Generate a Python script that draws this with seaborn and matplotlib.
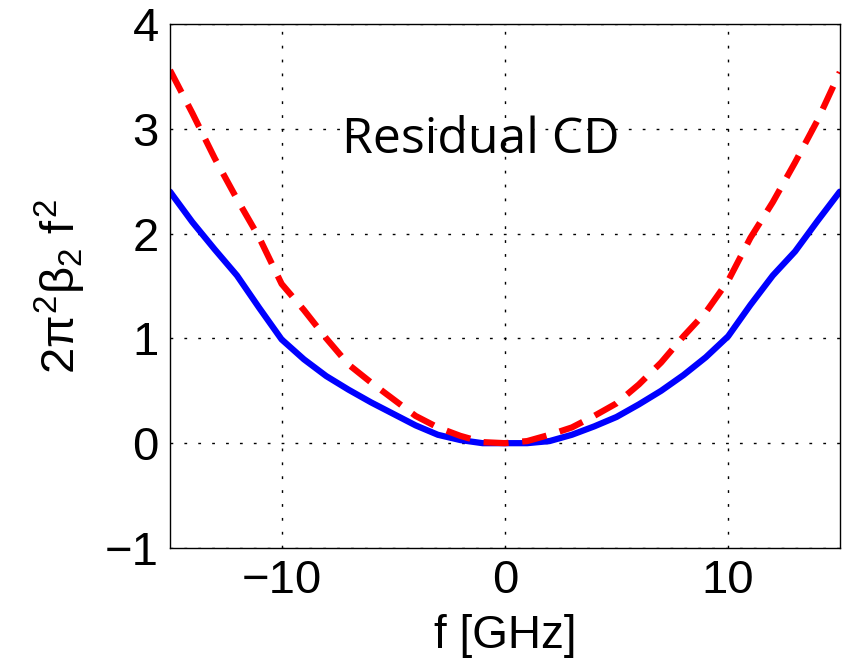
import numpy as np
import pandas as pd
import seaborn as sns
import matplotlib
matplotlib.use("Agg")
import matplotlib.pyplot as plt

# data
freq = [-15, -14, -13, -12, -11, -10, -9, -8, -7, -6, -5, -4, -3, -2, -1, 0,
        1, 2, 3, 4, 5, 6, 7, 8, 9, 10, 11, 12, 13, 14, 15]
cd_blue = [2.40, 2.11, 1.85, 1.60, 1.29, 0.99, 0.80, 0.64, 0.51, 0.39, 0.28,
           0.17, 0.08, 0.03, 0.00, 0.00, 0.00, 0.02, 0.08, 0.16, 0.25, 0.37,
           0.50, 0.65, 0.82, 1.02, 1.32, 1.60, 1.83, 2.12, 2.40]
cd_red = [3.56, 3.15, 2.72, 2.33, 1.96, 1.52, 1.27, 1.00, 0.75, 0.58, 0.42,
          0.26, 0.15, 0.07, 0.01, 0.00, 0.02, 0.08, 0.15, 0.26, 0.38, 0.56,
          0.77, 1.02, 1.25, 1.55, 1.96, 2.30, 2.68, 3.08, 3.54]
xticks = [-10, 0, 10]
yticks = [-1, 0, 1, 2, 3, 4]

df = pd.DataFrame({"f": freq, "blue": cd_blue, "red": cd_red})

sns.set_style("white")
plt.rcParams['font.family'] = ['Liberation Sans', 'DejaVu Sans']
plt.rcParams['text.color'] = 'black'
plt.rcParams['axes.labelcolor'] = 'black'
plt.rcParams['xtick.color'] = 'black'
plt.rcParams['ytick.color'] = 'black'
plt.rcParams['mathtext.fontset'] = 'custom'
plt.rcParams['mathtext.rm'] = 'Liberation Sans'
plt.rcParams['mathtext.it'] = 'Liberation Sans'

fig = plt.figure(figsize=(8.44, 6.61), dpi=100)
ax = fig.add_axes([0.2014, 0.171, 0.7936, 0.7927])

sns.lineplot(data=df, x="f", y="blue", color="#0000ff", lw=4.5, ax=ax)
sns.lineplot(data=df, x="f", y="red", color="#ff0000", lw=4.5, ax=ax)
ax.lines[-1].set_dashes([4, 2.2])

ax.set_xlim(-15, 15)
ax.set_ylim(-1, 4)
ax.set_xticks(xticks)
ax.set_yticks(yticks)
ax.set_xticklabels(["\u221210", "0", "10"])
ax.set_yticklabels(["\u22121", "0", "1", "2", "3", "4"])
ax.tick_params(direction="in", labelsize=34, length=5, width=0.8, pad=8)
ax.grid(True, color="black", linestyle=(0, (2, 8)), linewidth=1.0)
for s in ax.spines.values():
    s.set_color("black")
    s.set_linewidth(1.0)

ax.set_xlabel("f [GHz]", fontsize=33, labelpad=8)
ax.set_ylabel(r"$2\pi^2\beta_2\ f^2$", fontsize=34, labelpad=12)

ax.text(-1.1, 2.77, "Residual CD", fontsize=36, family="Open Sans",
        ha="center", va="baseline")

fig.savefig("out.png", dpi=100)
